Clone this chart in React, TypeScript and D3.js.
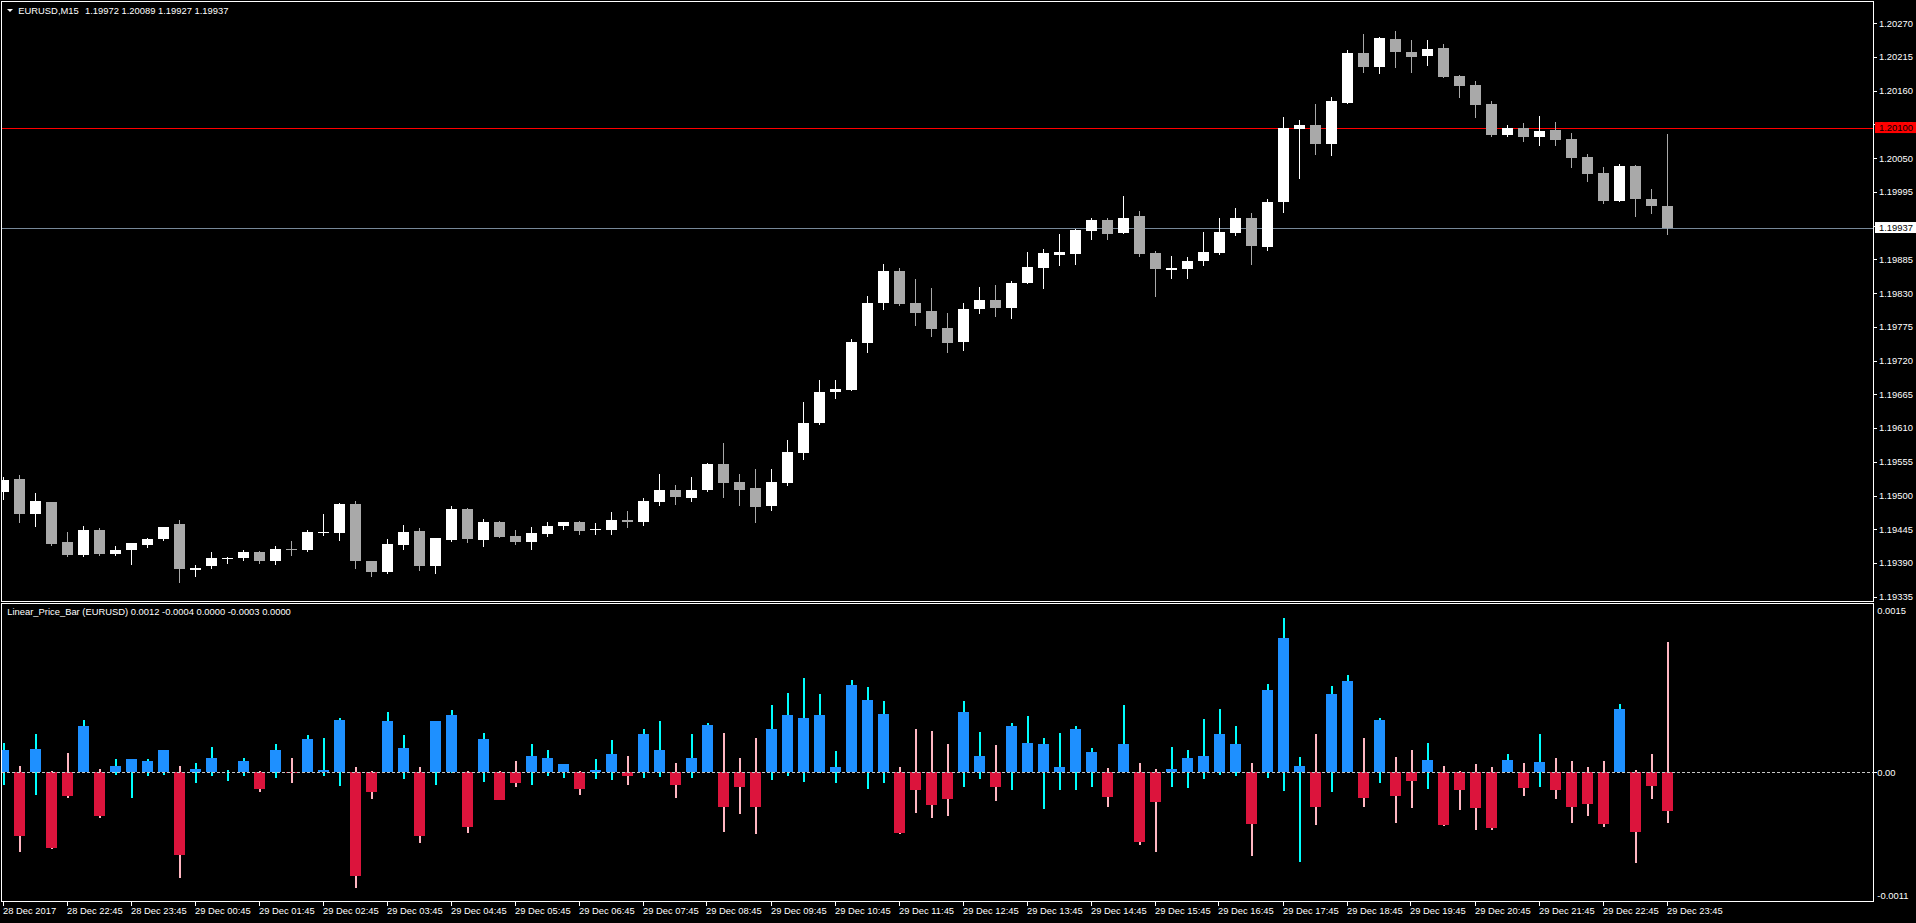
import * as d3 from 'd3';

// EURUSD M15, 28 Dec 21:45 .. 29 Dec 23:45
const opens = [
  1.19505, 1.19527, 1.19470, 1.19489, 1.19424, 1.19403, 1.19444, 1.19405, 1.19411, 1.19419,
  1.19429, 1.19454, 1.19379, 1.19385, 1.19398, 1.19398, 1.19408, 1.19393, 1.19413, 1.19411,
  1.19439, 1.19439, 1.19486, 1.19393, 1.19375, 1.19419, 1.19442, 1.19385, 1.19427, 1.19478,
  1.19427, 1.19457, 1.19434, 1.19424, 1.19437, 1.19450, 1.19457, 1.19443, 1.19444, 1.19460,
  1.19457, 1.19489, 1.19509, 1.19496, 1.19509, 1.19551, 1.19522, 1.19512, 1.19483, 1.19520,
  1.19569, 1.19618, 1.19669, 1.19672, 1.19749, 1.19814, 1.19866, 1.19814, 1.19801, 1.19773,
  1.19750, 1.19804, 1.19819, 1.19806, 1.19847, 1.19871, 1.19892, 1.19894, 1.19931, 1.19949,
  1.19928, 1.19956, 1.19896, 1.19868, 1.19869, 1.19882, 1.19896, 1.19928, 1.19953, 1.19905,
  1.19979, 1.20098, 1.20104, 1.20073, 1.20140, 1.20222, 1.20199, 1.20244, 1.20223, 1.20217,
  1.20230, 1.20184, 1.20169, 1.20138, 1.20088, 1.20099, 1.20085, 1.20096, 1.20081, 1.20052,
  1.20026, 1.19980, 1.20037, 1.19984, 1.19972,
];
const highs = [
  1.19531, 1.19533, 1.19504, 1.19490, 1.19441, 1.19450, 1.19447, 1.19417, 1.19423, 1.19431,
  1.19449, 1.19460, 1.19387, 1.19408, 1.19400, 1.19411, 1.19409, 1.19418, 1.19426, 1.19444,
  1.19470, 1.19488, 1.19491, 1.19394, 1.19429, 1.19452, 1.19447, 1.19431, 1.19483, 1.19479,
  1.19462, 1.19458, 1.19444, 1.19449, 1.19457, 1.19457, 1.19458, 1.19455, 1.19473, 1.19475,
  1.19496, 1.19535, 1.19517, 1.19530, 1.19553, 1.19586, 1.19535, 1.19543, 1.19543, 1.19591,
  1.19653, 1.19688, 1.19688, 1.19755, 1.19825, 1.19878, 1.19871, 1.19853, 1.19838, 1.19798,
  1.19814, 1.19840, 1.19843, 1.19850, 1.19897, 1.19902, 1.19927, 1.19935, 1.19953, 1.19953,
  1.19988, 1.19964, 1.19899, 1.19891, 1.19889, 1.19930, 1.19953, 1.19969, 1.19961, 1.19984,
  1.20117, 1.20112, 1.20138, 1.20150, 1.20227, 1.20253, 1.20248, 1.20258, 1.20243, 1.20243,
  1.20236, 1.20185, 1.20176, 1.20143, 1.20104, 1.20107, 1.20119, 1.20109, 1.20091, 1.20057,
  1.20036, 1.20041, 1.20039, 1.20000, 1.20089,
];
const lows = [
  1.19494, 1.19456, 1.19450, 1.19420, 1.19401, 1.19402, 1.19403, 1.19403, 1.19388, 1.19416,
  1.19427, 1.19359, 1.19369, 1.19382, 1.19390, 1.19395, 1.19390, 1.19388, 1.19403, 1.19410,
  1.19436, 1.19427, 1.19382, 1.19369, 1.19374, 1.19413, 1.19379, 1.19374, 1.19426, 1.19424,
  1.19418, 1.19432, 1.19421, 1.19413, 1.19434, 1.19445, 1.19437, 1.19437, 1.19437, 1.19449,
  1.19452, 1.19485, 1.19486, 1.19491, 1.19508, 1.19498, 1.19485, 1.19457, 1.19476, 1.19517,
  1.19560, 1.19617, 1.19659, 1.19672, 1.19734, 1.19804, 1.19811, 1.19778, 1.19760, 1.19734,
  1.19737, 1.19798, 1.19793, 1.19790, 1.19846, 1.19838, 1.19876, 1.19878, 1.19918, 1.19918,
  1.19928, 1.19891, 1.19825, 1.19855, 1.19855, 1.19876, 1.19894, 1.19925, 1.19878, 1.19900,
  1.19962, 1.20018, 1.20057, 1.20055, 1.20140, 1.20191, 1.20189, 1.20199, 1.20191, 1.20202,
  1.20182, 1.20150, 1.20117, 1.20086, 1.20087, 1.20078, 1.20072, 1.20072, 1.20036, 1.20013,
  1.19977, 1.19980, 1.19956, 1.19960, 1.19927,
];
const closes = [
  1.19525, 1.19470, 1.19491, 1.19421, 1.19403, 1.19444, 1.19405, 1.19411, 1.19423, 1.19429,
  1.19449, 1.19380, 1.19382, 1.19398, 1.19398, 1.19408, 1.19393, 1.19413, 1.19412, 1.19441,
  1.19441, 1.19486, 1.19393, 1.19375, 1.19421, 1.19441, 1.19385, 1.19431, 1.19478, 1.19429,
  1.19457, 1.19432, 1.19424, 1.19439, 1.19450, 1.19457, 1.19442, 1.19445, 1.19460, 1.19457,
  1.19491, 1.19509, 1.19498, 1.19509, 1.19551, 1.19520, 1.19509, 1.19481, 1.19522, 1.19571,
  1.19618, 1.19669, 1.19674, 1.19750, 1.19814, 1.19866, 1.19812, 1.19798, 1.19772, 1.19749,
  1.19804, 1.19819, 1.19806, 1.19847, 1.19873, 1.19896, 1.19897, 1.19933, 1.19949, 1.19927,
  1.19953, 1.19894, 1.19869, 1.19871, 1.19882, 1.19897, 1.19930, 1.19953, 1.19907, 1.19979,
  1.20099, 1.20104, 1.20073, 1.20143, 1.20222, 1.20199, 1.20246, 1.20223, 1.20215, 1.20228,
  1.20183, 1.20168, 1.20137, 1.20088, 1.20099, 1.20085, 1.20094, 1.20080, 1.20050, 1.20024,
  1.19980, 1.20037, 1.19984, 1.19972, 1.19937,
];

// one label every 4 bars (hourly)
const timeLabels = [
  '28 Dec 2017', '28 Dec 22:45', '28 Dec 23:45',
  '29 Dec 00:45', '29 Dec 01:45', '29 Dec 02:45', '29 Dec 03:45', '29 Dec 04:45', '29 Dec 05:45',
  '29 Dec 06:45', '29 Dec 07:45', '29 Dec 08:45', '29 Dec 09:45', '29 Dec 10:45', '29 Dec 11:45',
  '29 Dec 12:45', '29 Dec 13:45', '29 Dec 14:45', '29 Dec 15:45', '29 Dec 16:45', '29 Dec 17:45',
  '29 Dec 18:45', '29 Dec 19:45', '29 Dec 20:45', '29 Dec 21:45', '29 Dec 22:45', '29 Dec 23:45',
];
const priceTicks = [
  1.20270, 1.20215, 1.20160, 1.20105, 1.20050, 1.19995, 1.19940, 1.19885, 1.19830,
  1.19775, 1.19720, 1.19665, 1.19610, 1.19555, 1.19500, 1.19445, 1.19390, 1.19335,
];
const indicatorTicks = [0.0015, 0, -0.0011];
const indicatorTickText = ['0.0015', '0.00', '-0.0011'];
const hLineLevel = 1.20100;
const bidLevel = 1.19937;

const W = 1916;
const H = 923;
const left = 1.5;
const right = 1873.5;
const mainTop = 1.5;
const mainBottom = 601.5;
const indTop = 603.5;
const indBottom = 901.5;
const font = "'Liberation Sans', Arial, sans-serif";
const fs = 9.4;

export default function App() {
  const n = opens.length;
  const x = d3.scaleLinear().domain([0, n - 1]).range([3.5, 3.5 + 16 * (n - 1)]);
  const y = d3.scaleLinear().domain([1.19335, 1.20270]).range([596.7, 23.3]);
  const yi = d3.scaleLinear().domain([-0.0011, 0.0015]).range([895.2, 604.7]);

  const bars = d3.range(n).map(i => ({
    i, o: opens[i], h: highs[i], l: lows[i], c: closes[i],
  }));

  const snap = (v: number) => Math.round(v);

  return (
    <div style={{ position: 'fixed', left: 0, top: 0, width: W, height: H, background: '#000' }}>
      <svg width={W} height={H} style={{ display: 'block' }} fontFamily={font} fontSize={fs}>
        <rect width={W} height={H} fill="#000" />
        <defs>
          <clipPath id="mainClip">
            <rect x={2} y={2} width={right - 2.5} height={mainBottom - 2.5} />
          </clipPath>
          <clipPath id="indClip">
            <rect x={2} y={indTop + 0.5} width={right - 2.5} height={indBottom - indTop - 1} />
          </clipPath>
        </defs>

        {/* price panel */}
        <g clipPath="url(#mainClip)" shapeRendering="crispEdges">
          <line x1={left} x2={right} y1={snap(y(hLineLevel)) + 0.5} y2={snap(y(hLineLevel)) + 0.5} stroke="#ff0000" />
          <line x1={left} x2={right} y1={snap(y(bidLevel)) + 0.5} y2={snap(y(bidLevel)) + 0.5} stroke="#778899" />
          {bars.map(d => {
            const cx = x(d.i);
            const bull = d.c >= d.o;
            const col = bull ? '#ffffff' : '#a9a9a9';
            const top = snap(y(Math.max(d.o, d.c)));
            const bot = snap(y(Math.min(d.o, d.c)));
            return (
              <g key={d.i}>
                <rect x={cx - 0.5} y={snap(y(d.h))} width={1} height={Math.max(1, snap(y(d.l)) - snap(y(d.h)) + 1)} fill={col} />
                <rect x={cx - 5.5} y={top} width={11} height={Math.max(1, bot - top)} fill={col} />
              </g>
            );
          })}
        </g>

        {/* indicator panel */}
        <g clipPath="url(#indClip)" shapeRendering="crispEdges">
          {bars.map(d => {
            const cx = x(d.i);
            const bull = d.c >= d.o;
            const hi = snap(yi(d.h - d.o));
            const lo = snap(yi(d.l - d.o));
            const b1 = snap(yi(Math.max(0, d.c - d.o)));
            const b2 = snap(yi(Math.min(0, d.c - d.o)));
            return (
              <g key={d.i}>
                <rect x={cx - 1} y={hi} width={2} height={Math.max(1, lo - hi)} fill={bull ? '#00ffff' : '#ffb6c1'} />
                {b2 - b1 > 0 && (
                  <rect x={cx - 5.5} y={b1} width={11} height={b2 - b1} fill={bull ? '#1e90ff' : '#dc143c'} />
                )}
              </g>
            );
          })}
          <line x1={left} x2={right} y1={snap(yi(0)) + 0.5} y2={snap(yi(0)) + 0.5}
            stroke="#c8c8c8" strokeDasharray="3,2" />
        </g>

        {/* frames */}
        <g fill="none" stroke="#ffffff" shapeRendering="crispEdges">
          <rect x={left} y={mainTop} width={right - left} height={mainBottom - mainTop} />
          <rect x={left} y={indTop} width={right - left} height={indBottom - indTop} />
        </g>

        {/* price axis */}
        <g fill="#ffffff">
          {priceTicks.map(p => (
            <g key={p}>
              <rect x={right + 0.5} y={snap(y(p))} width={3} height={1} shapeRendering="crispEdges" />
              <text x={1879} y={y(p) + 3.4}>{p.toFixed(5)}</text>
            </g>
          ))}
        </g>
        <rect x={1875} y={y(hLineLevel) - 5.5} width={W - 1875} height={11} fill="#ff0000" />
        <text x={1879} y={y(hLineLevel) + 3.4} fill="#000000">{hLineLevel.toFixed(5)}</text>
        <rect x={1875} y={y(bidLevel) - 5.5} width={W - 1875} height={11} fill="#ffffff" />
        <text x={1879} y={y(bidLevel) + 3.4} fill="#000000">{bidLevel.toFixed(5)}</text>

        {/* indicator axis */}
        <g fill="#ffffff">
          {indicatorTicks.map((v, k) => (
            <g key={k}>
              {v === 0 && <rect x={right + 0.5} y={snap(yi(v))} width={3} height={1} shapeRendering="crispEdges" />}
              <text x={1877.3} y={Math.max(yi(v), indTop + 7) + 3.4}>{indicatorTickText[k]}</text>
            </g>
          ))}
        </g>

        {/* time axis */}
        <g fill="#ffffff">
          {timeLabels.map((t, k) => {
            const tx = x(k * 4);
            return (
              <g key={t}>
                <rect x={snap(tx) - 1} y={indBottom + 0.5} width={1} height={4} shapeRendering="crispEdges" />
                <text x={snap(tx) - 1} y={913.5}>{t}</text>
              </g>
            );
          })}
        </g>

        {/* headers */}
        <path d="M7,9 L13,9 L10,12 Z" fill="#ffffff" />
        <text x={18.3} y={14} fill="#ffffff">EURUSD,M15</text>
        <text x={85} y={14} fill="#ffffff">
          {[opens[n - 1], highs[n - 1], lows[n - 1], closes[n - 1]].map(v => v.toFixed(5)).join(' ')}
        </text>
        <text x={7.3} y={615} fill="#ffffff">Linear_Price_Bar (EURUSD) 0.0012 -0.0004 0.0000 -0.0003 0.0000</text>
      </svg>
    </div>
  );
}
